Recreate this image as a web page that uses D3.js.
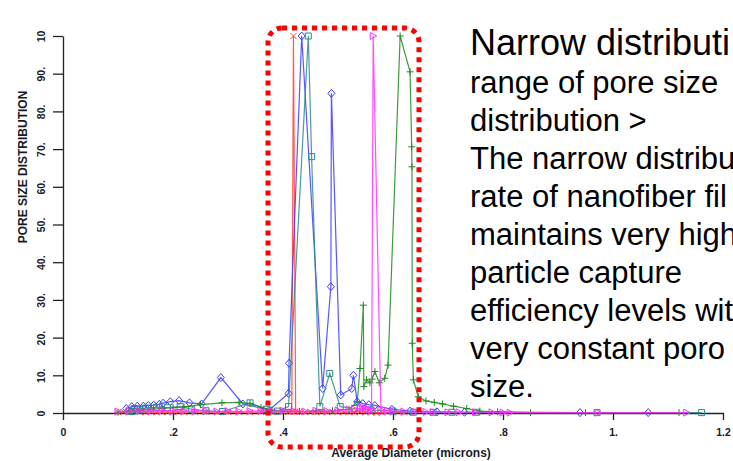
<!doctype html>
<html lang="en">
<head>
  <meta charset="utf-8" />
  <title>Pore Size Distribution</title>
  <script src="https://d3js.org/d3.v7.min.js"></script>
  <style>
    body { margin: 0; background: #fff; }
    .axis text { font-family: "Liberation Sans", Arial, sans-serif; font-size: 10.5px; font-weight: bold; fill: #1a1a2a; }
    .axis line, .axis path { stroke: #222; stroke-width: 1.3; }
    .note { font-family: "Liberation Sans", Arial, sans-serif; fill: #000; }
  </style>
</head>
<body>
<script type="text/javascript">

  // data
  var xTicks = [0, 0.2, 0.4, 0.6, 0.8, 1.0, 1.2];
  var xTickLabels = ["0", ".2", ".4", ".6", ".8", "1.", "1.2"];
  var yTicks = [0, 10, 20, 30, 40, 50, 60, 70, 80, 90, 100];
  var yTickLabels = ["0", "10.", "20.", "30.", "40.", "50.", "60.", "70.", "80.", "90.", "10"];

  var redX = [0.10,0.11,0.12,0.13,0.14,0.15,0.16,0.17,0.18,0.19,0.20,0.21,0.22,0.24,0.26,0.28,0.30,0.32,0.34,0.36,0.38,0.40,0.41,0.416,0.419,0.423,0.43,0.44,0.45,0.46,0.47,0.48,0.49,0.50,0.51,0.52,0.53,0.54,0.55,0.56,0.57,0.58,0.60,0.62];
  var redY = [0.2,0.3,0.2,0.4,0.3,0.2,0.3,0.2,0.3,0.2,0.2,0.3,0.2,0.2,0.3,0.2,0.3,0.2,0.2,0.3,0.2,0.3,0.3,0.4,100,0.4,0.3,0.2,0.3,0.2,0.3,0.2,0.3,0.2,0.3,0.2,0.2,0.3,0.2,0.2,0.1,0.1,0.1,0.1];

  var blueX = [0.115,0.125,0.135,0.146,0.155,0.165,0.175,0.182,0.195,0.211,0.23,0.252,0.287,0.327,0.375,0.41,0.411,0.434,0.472,0.487,0.488,0.505,0.525,0.528,0.535,0.545,0.556,0.567,0.598,0.631,0.68,0.73,0.94,1.064];
  var blueY = [1.2,1.7,1.8,1.8,2.0,2.1,2.3,2.6,3.0,3.3,2.7,2.4,9.4,2.4,0.8,5.2,13.2,100,6.5,33.5,84.8,4.8,6.5,10,3,2.5,2.2,2.0,1.0,0.5,0.3,0.2,0.1,0.1];

  var tealX = [0.12,0.125,0.13,0.14,0.15,0.17,0.19,0.213,0.234,0.26,0.29,0.34,0.37,0.39,0.41,0.446,0.452,0.467,0.485,0.504,0.53,0.56,0.60,0.637,0.673,0.707,0.752,0.971,1.161];
  var tealY = [0.5,0.4,1.2,1.0,1.3,1.5,1.4,1.7,1.0,0.6,0.4,2.7,1.0,0.5,1.7,100,68,1.7,10.5,1.7,1.2,0.8,0.5,0.2,0.2,0.2,0.2,0.1,0.1];

  var greenX = [0.10,0.12,0.14,0.16,0.18,0.20,0.22,0.25,0.289,0.32,0.34,0.36,0.38,0.40,0.43,0.46,0.49,0.52,0.535,0.54,0.546,0.547,0.552,0.558,0.562,0.567,0.575,0.585,0.591,0.613,0.631,0.634,0.6345,0.635,0.637,0.646,0.66,0.675,0.69,0.71,0.734,0.758,0.79,0.85,0.95,1.12];
  var greenY = [0.2,0.5,0.8,1.0,1.2,1.4,1.6,2.2,2.7,2.8,2.5,1.5,0.8,0.5,0.4,0.5,0.6,1.0,3,11.8,28.6,7,8.8,8,9,11,8,9.2,12.7,100,90.5,70.6,65.3,18.5,8.8,4.3,3.2,2.8,2.4,1.8,1.2,0.5,0.3,0.1,0.1,0.1];

  var pinkX = [0.10,0.12,0.14,0.16,0.18,0.20,0.22,0.24,0.26,0.28,0.30,0.32,0.34,0.36,0.38,0.40,0.42,0.44,0.46,0.48,0.50,0.52,0.53,0.54,0.545,0.55,0.555,0.561,0.564,0.578,0.59,0.60,0.62,0.64,0.66,0.673,0.70,0.72,0.75,0.78,0.80,0.813,0.973,1.134];
  var pinkY = [0.4,0.5,0.6,0.5,0.7,0.6,0.5,0.6,0.5,0.4,0.5,0.4,0.5,0.6,0.5,0.6,0.5,0.4,0.6,0.5,0.7,0.9,1.0,1.2,1.4,1.2,1.0,0.8,100,0.8,0.6,0.5,0.4,0.3,0.3,0.2,0.2,0.2,0.2,0.2,0.1,0.1,0.1,0.1];

  // the note runs off the slide edge in the source, keep only what shows
  var noteTitle = "Narrow distributi";
  var noteLines = ["range of pore size", "distribution >", "The narrow distribu",
    "rate of nanofiber fil", "maintains very high", "particle capture",
    "efficiency levels wit", "very constant poro", "size."];

  var width = 733, height = 461;

  var svg = d3.select("body").append("svg")
    .attr("width", width)
    .attr("height", height);

  svg.append("rect").attr("width", width).attr("height", height).attr("fill", "#fff");

  var x = d3.scaleLinear().domain([0, 1.2]).range([63, 723]);
  var y = d3.scaleLinear().domain([0, 100]).range([413, 36]);

  // axes
  var xAxis = d3.axisBottom(x)
    .tickValues(xTicks)
    .tickFormat(function(d, i) { return xTickLabels[i]; })
    .tickSize(7).tickSizeOuter(0);

  var yAxis = d3.axisLeft(y)
    .tickValues(yTicks)
    .tickFormat(function(d, i) { return yTickLabels[i]; })
    .tickSize(10).tickSizeOuter(0);

  svg.append("g")
    .attr("class", "x axis")
    .attr("transform", "translate(0," + y(0) + ")")
    .call(xAxis)
    .selectAll("text").attr("dy", "1.2em");

  svg.append("g")
    .attr("class", "y axis")
    .attr("transform", "translate(" + x(0) + ",0)")
    .call(yAxis)
    .selectAll("text")
    .attr("transform", "rotate(-90)")
    .attr("x", 0).attr("y", -18).attr("dy", 0)
    .attr("text-anchor", "middle");

  svg.append("text")
    .attr("transform", "translate(27,167) rotate(-90)")
    .attr("text-anchor", "middle")
    .style("font-family", "'Liberation Sans', Arial, sans-serif")
    .style("font-size", "12px").style("font-weight", "bold").style("fill", "#1a1a2a")
    .text("PORE SIZE DISTRIBUTION");

  svg.append("text")
    .attr("x", 411).attr("y", 457)
    .attr("text-anchor", "middle")
    .style("font-family", "'Liberation Sans', Arial, sans-serif")
    .style("font-size", "12px").style("font-weight", "bold").style("fill", "#1a1a2a")
    .text("Average Diameter (microns)");

  // markers
  var shapes = {
    cross: "M-3,-3L3,3M-3,3L3,-3",
    plus: "M-3.5,0L3.5,0M0,-3.5L0,3.5",
    diamond: "M0,-4L3.5,0L0,4L-3.5,0Z",
    square: "M-3,-3L3,-3L3,3L-3,3Z",
    tri: "M-3,-3.5L3.5,0L-3,3.5Z"
  };

  function series(xs, ys, color, shape) {
    var pts = xs.map(function(v, i) { return {q: v, p: ys[i]}; });
    var line = d3.line()
      .x(function(d) { return x(d.q); })
      .y(function(d) { return y(d.p); });
    var g = svg.append("g");
    g.append("path")
      .datum(pts)
      .attr("fill", "none")
      .attr("stroke", color)
      .attr("stroke-width", 1.2)
      .attr("stroke-opacity", 0.85)
      .attr("d", line);
    g.selectAll("path.m")
      .data(pts)
      .enter().append("path")
      .attr("class", "m")
      .attr("transform", function(d) { return "translate(" + x(d.q) + "," + y(d.p) + ")"; })
      .attr("d", shapes[shape])
      .attr("fill", "none")
      .attr("stroke", color)
      .attr("stroke-width", 1);
  }

  series(redX, redY, "#ff3b3b", "cross");
  series(blueX, blueY, "#3a3aff", "diamond");
  series(tealX, tealY, "#2b8a8a", "square");
  series(greenX, greenY, "#1f8a1f", "plus");
  series(pinkX, pinkY, "#ff30ff", "tri");

  // red dotted highlight box
  svg.append("rect")
    .attr("x", 268).attr("y", 28)
    .attr("width", 151).attr("height", 419)
    .attr("rx", 14)
    .attr("fill", "none")
    .attr("stroke", "#ff0000")
    .attr("stroke-width", 5)
    .attr("stroke-dasharray", "5,5");

  // note on the right
  svg.append("text")
    .attr("class", "note")
    .attr("x", 470).attr("y", 55)
    .style("font-size", "36px")
    .text(noteTitle);

  svg.selectAll("text.body")
    .data(noteLines)
    .enter().append("text")
    .attr("class", "note body")
    .attr("x", 470)
    .attr("y", function(d, i) { return 93 + i * 38; })
    .style("font-size", "31px")
    .text(function(d) { return d; });

</script>
</body>
</html>
